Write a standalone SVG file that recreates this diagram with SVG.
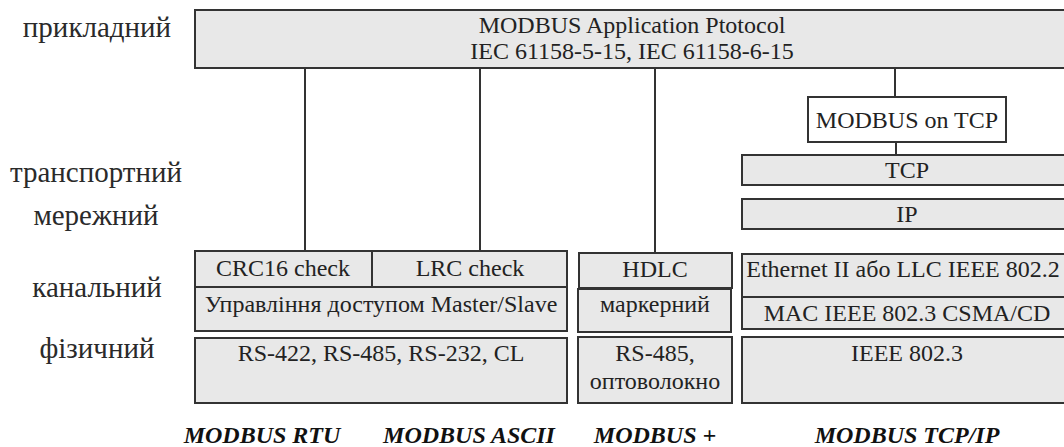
<svg xmlns="http://www.w3.org/2000/svg" width="1064" height="447" viewBox="0 0 1064 447">
<style>
text{font-family:"Liberation Serif","Times New Roman",serif;fill:#222;text-anchor:middle}
.t{font-size:24px}
.s{font-size:24px}
.lab{font-size:29px;fill:#2a2a2a}
.b{font-size:24px;font-weight:bold;font-style:italic;fill:#111}
.box{fill:#e8e8e8;stroke:#333;stroke-width:2}
.wbox{fill:#fff;stroke:#333;stroke-width:2}
.ln{stroke:#333;stroke-width:2;fill:none}
</style>
<rect width="1064" height="447" fill="#fff"/>
<g id="layer-labels">
<text class="lab" x="97" y="37">прикладний</text>
<text class="lab" x="96" y="182">транспортний</text>
<text class="lab" x="96" y="225">мережний</text>
<text class="lab" x="97" y="297">канальний</text>
<text class="lab" x="97" y="358">фізичний</text>
</g>
<g id="connectors">
<line class="ln" x1="305" y1="68" x2="305" y2="251"/>
<line class="ln" x1="480" y1="68" x2="480" y2="251"/>
<line class="ln" x1="655" y1="68" x2="655" y2="253"/>
<line class="ln" x1="895" y1="68" x2="895" y2="97"/>
<line class="ln" x1="896" y1="142" x2="896" y2="155"/>
</g>
<g id="app">
<rect class="box" x="195" y="10" width="880" height="58"/>
<text class="t" x="632" y="33">MODBUS Application Ptotocol</text>
<text class="t" x="632" y="59">IEC 61158-5-15, IEC 61158-6-15</text>
</g>
<g id="modbus-on-tcp">
<rect class="wbox" x="808" y="97" width="198" height="45"/>
<text class="t" x="907" y="128">MODBUS on TCP</text>
</g>
<g id="tcp">
<rect class="box" x="742" y="155" width="330" height="30"/>
<text class="t" x="907" y="178">TCP</text>
</g>
<g id="ip">
<rect class="box" x="742" y="199" width="330" height="30"/>
<text class="t" x="907" y="222">IP</text>
</g>
<g id="rtu-ascii-link">
<rect class="box" x="195" y="251" width="372" height="80"/>
<line class="ln" x1="195" y1="287" x2="567" y2="287"/>
<line class="ln" x1="372" y1="251" x2="372" y2="287"/>
<text class="t" x="283" y="276">CRC16 check</text>
<text class="t" x="470" y="276">LRC check</text>
<text class="t" x="381" y="312">Управління доступом Master/Slave</text>
</g>
<g id="rtu-ascii-phys">
<rect class="box" x="195" y="338" width="372" height="65"/>
<text class="t" x="381" y="361">RS-422, RS-485, RS-232, CL</text>
</g>
<g id="hdlc">
<rect class="box" x="579" y="253" width="153" height="35"/>
<text class="t" x="655" y="277">HDLC</text>
</g>
<g id="marker">
<rect class="box" x="578" y="289" width="153" height="43"/>
<text class="s" x="655" y="312">маркерний</text>
</g>
<g id="plus-phys">
<rect class="box" x="578" y="337" width="154" height="66"/>
<text class="t" x="655" y="361">RS-485,</text>
<text class="s" x="655" y="389">оптоволокно</text>
</g>
<g id="eth-link">
<rect class="box" x="742" y="254" width="330" height="75"/>
<line class="ln" x1="742" y1="297" x2="1064" y2="297"/>
<text class="t" x="903" y="277">Ethernet II або LLC IEEE 802.2</text>
<text class="t" x="907" y="321">MAC IEEE 802.3 CSMA/CD</text>
</g>
<g id="eth-phys">
<rect class="box" x="742" y="337" width="330" height="66"/>
<text class="t" x="907" y="361">IEEE 802.3</text>
</g>
<g id="stack-names">
<text class="b" x="262" y="443">MODBUS RTU</text>
<text class="b" x="469" y="443">MODBUS ASCII</text>
<text class="b" x="655" y="443">MODBUS +</text>
<text class="b" x="907" y="443">MODBUS TCP/IP</text>
</g>
</svg>
